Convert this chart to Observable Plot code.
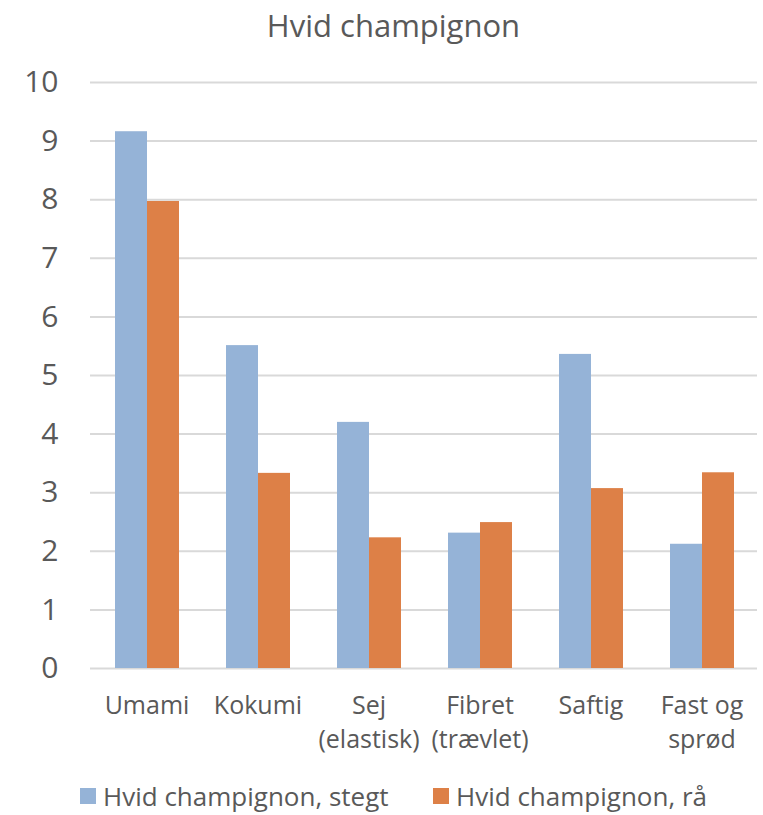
<!DOCTYPE html>
<html>
<head>
<meta charset="utf-8">
<script src="https://cdn.jsdelivr.net/npm/d3@7"></script>
<script src="https://cdn.jsdelivr.net/npm/@observablehq/plot@0.6"></script>
<style>
  html, body { margin: 0; padding: 0; background: #fff; }
  body { width: 763px; height: 815px; overflow: hidden; font-family: "Open Sans", sans-serif; color: #595959; position: relative; }
  #title { height: 50px; line-height: 50px; font-size: 31px; text-align: center; padding-left: 24px; box-sizing: border-box; }
  .item { display: flex; align-items: center; font-size: 26px; line-height: 30px; white-space: nowrap; }
  .sw { width: 16px; height: 16px; margin-right: 7px; }
</style>
</head>
<body>
<div id="title">Hvid champignon</div>
<div id="chart"></div>
<div id="legend"></div>
<script>
const categories = ["Umami", "Kokumi", "Sej (elastisk)", "Fibret (trævlet)", "Saftig", "Fast og sprød"];
const categoryLabels = ["Umami", "Kokumi", "Sej\n(elastisk)", "Fibret\n(trævlet)", "Saftig", "Fast og\nsprød"];
const seriesNames = ["Hvid champignon, stegt", "Hvid champignon, rå"];
const stegt = [9.16, 5.51, 4.20, 2.31, 5.36, 2.12];
const raa = [7.97, 3.33, 2.23, 2.49, 3.07, 3.34];
const yTicks = [0, 1, 2, 3, 4, 5, 6, 7, 8, 9, 10];
const colors = ["#95b3d7", "#dd8047"];

const rowsStegt = categories.map((c, i) => ({category: c, value: stegt[i]}));
const rowsRaa = categories.map((c, i) => ({category: c, value: raa[i]}));
const labelOf = new Map(categories.map((c, i) => [c, categoryLabels[i]]));

const chart = Plot.plot({
  width: 763,
  height: 720,
  marginTop: 32,
  marginBottom: 102,
  marginLeft: 90,
  marginRight: 6,
  style: {fontFamily: "Open Sans, sans-serif", color: "#595959", background: "#fff"},
  x: {domain: categories, padding: 0},
  y: {domain: [0, 10]},
  marks: [
    Plot.ruleY(yTicks, {stroke: "#d9d9d9", strokeWidth: 2}),
    Plot.axisY({ticks: yTicks, tickSize: 0, tickPadding: 32, fontSize: 30, fill: "#595959", label: null}),
    Plot.axisX({tickSize: 0, tickPadding: 21, fontSize: 25, fill: "#595959", label: null, lineHeight: 1.36, tickFormat: d => labelOf.get(d)}),
    Plot.barY(rowsStegt, {x: "category", y: "value", fill: colors[0], insetLeft: 24, insetRight: 55}),
    Plot.barY(rowsRaa, {x: "category", y: "value", fill: colors[1], insetLeft: 56, insetRight: 23})
  ]
});
document.getElementById("chart").appendChild(chart);

const legend = document.getElementById("legend");
const offsets = [80, 433];
seriesNames.forEach((name, i) => {
  const item = document.createElement("div");
  item.className = "item";
  item.style.position = "absolute";
  item.style.left = offsets[i] + "px";
  item.style.top = "781px";
  item.style.height = "30px";
  const sw = document.createElement("div");
  sw.className = "sw";
  sw.style.background = colors[i];
  const t = document.createElement("span");
  t.textContent = name;
  item.appendChild(sw);
  item.appendChild(t);
  legend.appendChild(item);
});
</script>
</body>
</html>
